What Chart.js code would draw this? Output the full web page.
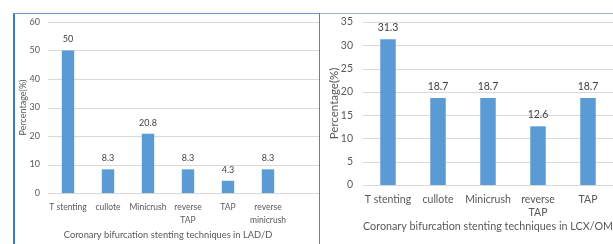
<!DOCTYPE html>
<html>
<head>
<meta charset="utf-8">
<script src="https://cdn.jsdelivr.net/npm/chart.js@4"></script>
<style>
  html, body { margin: 0; padding: 0; background: #fff; }
  #page { position: relative; width: 613px; height: 244px; overflow: hidden; }
  .panel { position: absolute; top: 0; height: 244px; background: #fff; }
  #leftPanel { left: 0; width: 319px; }
  #rightPanel { left: 320px; width: 293px; }
  .line { position: absolute; }
</style>
</head>
<body>
<div id="page">
  <div class="panel" id="leftPanel"><canvas id="ladChart" width="319" height="244"></canvas></div>
  <div class="panel" id="rightPanel"><canvas id="lcxChart" width="293" height="244"></canvas></div>
  <div class="line" style="left:13px;top:13px;width:2px;height:231px;background:#3f7bbb"></div>
  <div class="line" style="left:13px;top:13px;width:306px;height:1px;background:#6f98c6"></div>
  <div class="line" style="left:319px;top:13px;width:1px;height:231px;background:#4f86c0"></div>
  <div class="line" style="left:320px;top:13px;width:293px;height:1px;background:#9bb3cc"></div>
</div>
<script>
const ladLabels = ['T stenting', 'cullote', 'Minicrush', ['reverse', 'TAP'], 'TAP', ['reverse', 'minicrush']];
const ladValues = [50, 8.3, 20.8, 8.3, 4.3, 8.3];

const lcxLabels = ['T stenting', 'cullote', 'Minicrush', ['reverse', 'TAP'], 'TAP'];
const lcxValues = [31.3, 18.7, 18.7, 12.6, 18.7];

const FONT = 'Lato, "Open Sans", sans-serif';
const GREY = '#595959';

// y grid lines run on past the plot area, as in the source image
const fullGrid = {
    id: 'fullGrid',
    beforeDatasetsDraw(chart) {
        const { ctx, chartArea, scales: { y } } = chart;
        ctx.save();
        ctx.strokeStyle = '#d9d9d9';
        ctx.lineWidth = 1;
        y.ticks.forEach(t => {
            const py = Math.round(y.getPixelForValue(t.value)) + 0.5;
            ctx.beginPath();
            ctx.moveTo(chartArea.left, py);
            ctx.lineTo(chart.width, py);
            ctx.stroke();
        });
        ctx.restore();
    }
};

const valueLabels = {
    id: 'valueLabels',
    afterDatasetsDraw(chart, args, opts) {
        const { ctx } = chart;
        const values = chart.data.datasets[0].data;
        ctx.save();
        ctx.font = opts.size + 'px ' + FONT;
        ctx.fillStyle = '#404040';
        ctx.textAlign = 'center';
        ctx.textBaseline = 'middle';
        chart.getDatasetMeta(0).data.forEach((bar, i) => {
            ctx.fillText(String(values[i]), bar.x, bar.y - opts.offset);
        });
        ctx.restore();
    }
};

function makeChart(id, labels, values, cfg) {
    return new Chart(document.getElementById(id), {
        type: 'bar',
        data: {
            labels: labels,
            datasets: [{
                data: values,
                backgroundColor: '#5b9bd5',
                barPercentage: cfg.barPct,
                categoryPercentage: 1
            }]
        },
        plugins: [fullGrid, valueLabels],
        options: {
            responsive: false,
            animation: false,
            devicePixelRatio: 1,
            layout: { padding: cfg.padding },
            plugins: {
                legend: { display: false },
                tooltip: { enabled: false },
                valueLabels: { size: cfg.valueSize, offset: cfg.valueOffset }
            },
            scales: {
                x: {
                    afterFit: s => { s.height = cfg.xHeight; },
                    grid: { display: false, drawTicks: false },
                    border: { display: false },
                    ticks: {
                        color: GREY,
                        font: { family: FONT, size: cfg.tickSize, lineHeight: 13 / cfg.tickSize },
                        padding: cfg.xTickPad,
                        maxRotation: 0,
                        autoSkip: false
                    },
                    title: {
                        display: true,
                        text: cfg.xTitle,
                        color: GREY,
                        font: { family: FONT, size: cfg.titleSize, lineHeight: 1.2 },
                        padding: { top: 0, bottom: cfg.xTitlePad }
                    }
                },
                y: {
                    min: 0,
                    max: cfg.yMax,
                    afterFit: s => { s.width = cfg.yWidth; },
                    grid: { display: false, drawTicks: false },
                    border: { display: false },
                    ticks: {
                        stepSize: cfg.yStep,
                        color: GREY,
                        font: { family: FONT, size: cfg.yTickSize },
                        padding: cfg.yTickPad
                    },
                    title: {
                        display: true,
                        text: 'Percentage(%)',
                        color: GREY,
                        font: { family: FONT, size: cfg.yTitleSize, lineHeight: 1.2 },
                        padding: { top: cfg.yTitlePad, bottom: 0 }
                    }
                }
            }
        }
    });
}

makeChart('ladChart', ladLabels, ladValues, {
    padding: { left: 0, right: 31, top: 22, bottom: 0 },
    barPct: 0.31,
    yMax: 60, yStep: 10,
    yWidth: 48, xHeight: 51,
    tickSize: 8.5, yTickSize: 9, titleSize: 9.3, yTitleSize: 9,
    xTickPad: 8, yTickPad: 8,
    xTitle: 'Coronary bifurcation stenting techniques in LAD/D',
    xTitlePad: 3, yTitlePad: 17.5,
    valueSize: 9, valueOffset: 11
});

makeChart('lcxChart', lcxLabels, lcxValues, {
    padding: { left: 0, right: 0, top: 22, bottom: 0 },
    barPct: 0.31,
    yMax: 35, yStep: 5,
    yWidth: 43, xHeight: 59,
    tickSize: 10.5, yTickSize: 10.5, titleSize: 11.5, yTitleSize: 11.5,
    xTickPad: 8, yTickPad: 10,
    xTitle: 'Coronary bifurcation stenting techniques in LCX/OM',
    xTitlePad: 11, yTitlePad: 7,
    valueSize: 10.5, valueOffset: 11.5
});
</script>
</body>
</html>
